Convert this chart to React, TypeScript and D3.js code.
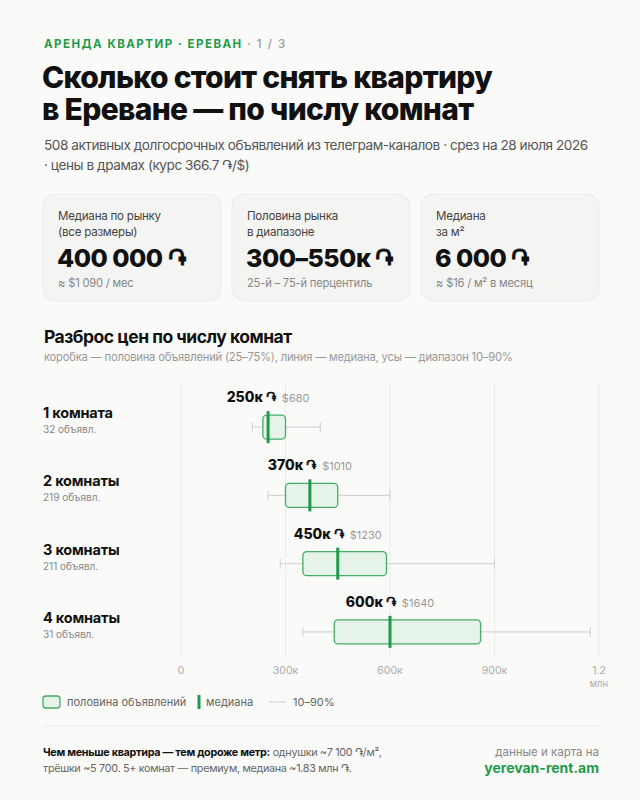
import React from 'react'
import * as d3 from 'd3'

// room-count groups
const rooms = ['1 комната', '2 комнаты', '3 комнаты', '4 комнаты']
const listings = [32, 219, 211, 31]
// price distribution, AMD per month
const p10 = [205000, 250000, 285000, 350000]
const p25 = [235000, 300000, 350000, 440000]
const medians = [250000, 370000, 450000, 600000]
const p75 = [300000, 450000, 590000, 860000]
const p90 = [400000, 600000, 900000, 1175000]
const mediansUsd = [680, 1010, 1230, 1640]

const xTicks = [0, 300000, 600000, 900000, 1200000]
const xTickLabels = ['0', '300к', '600к', '900к', '1.2']

const cards = [
  { label: ['Медиана по рынку', '(все размеры)'], value: '400 000 ֏', note: '≈ $1 090 / мес' },
  { label: ['Половина рынка', 'в диапазоне'], value: '300–550к ֏', note: '25-й – 75-й перцентиль' },
  { label: ['Медиана', 'за м²'], value: '6 000 ֏', note: '≈ $16 / м² в месяц' },
]

const FONT = "Inter, 'Noto Sans', 'DejaVu Sans', sans-serif"
const GREEN = '#1f9a4b'
const BOX_FILL = '#e5f3e9'
const BOX_STROKE = '#45ac64'

export default function App() {
  const W = 640
  const H = 800

  const x = d3.scaleLinear().domain([0, 1200000]).range([181, 599])
  const y = d3.scaleBand().domain(rooms).range([393, 666]).padding(0)
  const cy = (r: string) => y(r)! + y.bandwidth() / 2
  const boxH = 24

  const cardW = 178
  const cardGap = 11

  return (
    <svg width={W} height={H} style={{ position: 'absolute', left: 0, top: 0, fontFamily: FONT }}>
      <rect width={W} height={H} fill="#fafaf8" />

      {/* header */}
      <text x={44} y={48} fontSize={11.5} fontWeight={700} letterSpacing={1.5} fill={GREEN}>
        АРЕНДА КВАРТИР · ЕРЕВАН
        <tspan fill="#9a9a9a" fontWeight={500}> · 1 / 3</tspan>
      </text>
      <text x={42} y={88} fontSize={30} fontWeight={800} letterSpacing={-0.7} fill="#111">
        Сколько стоит снять квартиру
      </text>
      <text x={42} y={120} fontSize={30} fontWeight={800} letterSpacing={-0.7} fill="#111">
        в Ереване — по числу комнат
      </text>
      <text x={44} y={150} fontSize={13.6} fill="#555" letterSpacing={-0.45}>
        508 активных долгосрочных объявлений из телеграм-каналов · срез на 28 июля 2026
      </text>
      <text x={44} y={170} fontSize={13.6} fill="#555" letterSpacing={-0.45}>
        · цены в драмах (курс 366.7 ֏/$)
      </text>

      {/* summary cards */}
      {cards.map((c, i) => {
        const cx0 = 43 + i * (cardW + cardGap)
        return (
          <g key={i} transform={`translate(${cx0},194)`}>
            <rect width={cardW} height={107} rx={12} fill="#f4f4f2" stroke="#ebebe8" />
            <text x={15} y={26} fontSize={11.6} letterSpacing={-0.25} fill="#444">{c.label[0]}</text>
            <text x={15} y={42} fontSize={11.6} letterSpacing={-0.25} fill="#444">{c.label[1]}</text>
            <text x={14} y={73} fontSize={25} fontWeight={800} letterSpacing={-0.5} fill="#111">{c.value}</text>
            <text x={15} y={93} fontSize={11.2} letterSpacing={-0.2} fill="#888">{c.note}</text>
          </g>
        )
      })}

      {/* section heading */}
      <text x={44} y={343} fontSize={17.5} fontWeight={700} letterSpacing={-0.5} fill="#111">
        Разброс цен по числу комнат
      </text>
      <text x={44} y={361} fontSize={11.2} letterSpacing={-0.2} fill="#999">
        коробка — половина объявлений (25–75%), линия — медиана, усы — диапазон 10–90%
      </text>

      {/* grid */}
      {xTicks.map((t, i) => (
        <g key={t}>
          <line x1={x(t)} x2={x(t)} y1={383} y2={658} stroke="#ebebeb" />
          <text x={x(t)} y={674} fontSize={10.5} fill="#aaa" textAnchor="middle">{xTickLabels[i]}</text>
        </g>
      ))}
      <text x={x(1200000)} y={687} fontSize={9.5} fill="#aaa" textAnchor="middle">млн</text>

      {/* boxes */}
      {rooms.map((r, i) => {
        const c = cy(r)
        return (
          <g key={r}>
            <text x={43} y={c - 9} fontSize={14.5} fontWeight={700} letterSpacing={-0.2} fill="#111">{r}</text>
            <text x={43} y={c + 6} fontSize={10} fill="#888">{listings[i]} объявл.</text>
            <line x1={x(p10[i])} x2={x(p90[i])} y1={c} y2={c} stroke="#d6d6d6" strokeWidth={1.2} />
            <line x1={x(p10[i])} x2={x(p10[i])} y1={c - 5} y2={c + 5} stroke="#d6d6d6" strokeWidth={1.2} />
            <line x1={x(p90[i])} x2={x(p90[i])} y1={c - 5} y2={c + 5} stroke="#d6d6d6" strokeWidth={1.2} />
            <rect
              x={x(p25[i])}
              y={c - boxH / 2}
              width={x(p75[i]) - x(p25[i])}
              height={boxH}
              rx={4}
              fill={BOX_FILL}
              stroke={BOX_STROKE}
              strokeWidth={1.3}
            />
            <line x1={x(medians[i])} x2={x(medians[i])} y1={c - 16} y2={c + 16} stroke={GREEN} strokeWidth={3} />
            <text x={x(medians[i])} y={c - 25} textAnchor="middle" fill="#111">
              <tspan fontSize={14} fontWeight={800}>{medians[i] / 1000}к ֏</tspan>
              <tspan fontSize={11} fill="#999" dx={6}>${mediansUsd[i]}</tspan>
            </text>
          </g>
        )
      })}

      {/* legend */}
      <g transform="translate(0,702)">
        <rect x={43} y={-6} width={17} height={12} rx={3} fill={BOX_FILL} stroke={BOX_STROKE} strokeWidth={1.3} />
        <text x={67} y={4} fontSize={11} fill="#666">половина объявлений</text>
        <line x1={199} x2={199} y1={-7} y2={7} stroke={GREEN} strokeWidth={3} />
        <text x={206} y={4} fontSize={11} fill="#666">медиана</text>
        <line x1={269} x2={286} y1={0} y2={0} stroke="#d6d6d6" strokeWidth={1.2} />
        <text x={293} y={4} fontSize={11} fill="#666">10–90%</text>
      </g>

      {/* footer */}
      <line x1={43} x2={599} y1={726} y2={726} stroke="#ebebeb" />
      <text x={43} y={756} fontSize={10.8} letterSpacing={-0.3} fill="#666">
        <tspan fontWeight={700} fill="#111">Чем меньше квартира — тем дороже метр:</tspan> однушки ~7 100 ֏/м²,
      </text>
      <text x={43} y={772} fontSize={10.8} letterSpacing={-0.3} fill="#666">
        трёшки ~5 700. 5+ комнат — премиум, медиана ~1.83 млн ֏.
      </text>
      <text x={599} y={756} fontSize={11.5} fill="#888" textAnchor="end">данные и карта на</text>
      <text x={599} y={773} fontSize={14} fontWeight={700} fill={GREEN} textAnchor="end">yerevan-rent.am</text>
    </svg>
  )
}
